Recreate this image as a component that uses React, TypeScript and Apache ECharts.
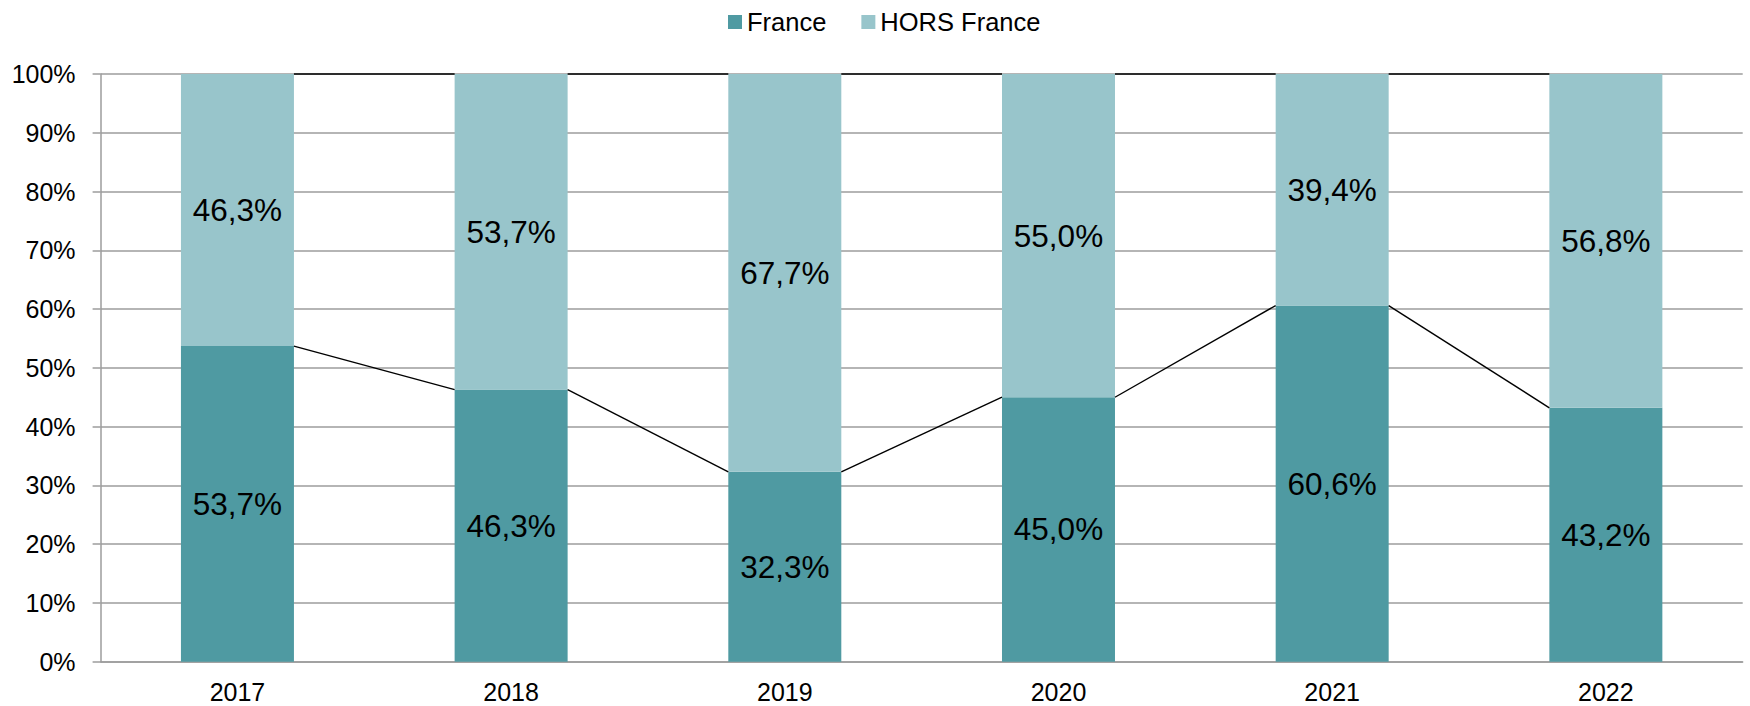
import React, { useEffect, useRef } from "react";
import * as echarts from "echarts";

const categories = ["2017", "2018", "2019", "2020", "2021", "2022"];
const franceValues = [53.7, 46.3, 32.3, 45.0, 60.6, 43.2];
const horsFranceValues = [46.3, 53.7, 67.7, 55.0, 39.4, 56.8];
const yTicks = [0, 10, 20, 30, 40, 50, 60, 70, 80, 90, 100];

const DARK = "#4F9AA2";
const LIGHT = "#98C5CB";
const GRID = "#9C9C9C";
const FONT = "Liberation Sans, Arial, sans-serif";
const BAR_W = 113;

export default function App() {
  const ref = useRef<HTMLDivElement>(null);

  useEffect(() => {
    if (!ref.current) return;
    const chart = echarts.init(ref.current, undefined, { renderer: "svg" });

    const totals = franceValues.map((v, i) => v + horsFranceValues[i]);
    const franceLinks = franceValues.slice(0, -1).map((v, i) => [i, v, franceValues[i + 1]]);
    const topLinks = totals.slice(0, -1).map((v, i) => [i, v, totals[i + 1]]);

    const renderLink = (params: any, api: any) => {
      const i = api.value(0);
      const p1 = api.coord([i, api.value(1)]);
      const p2 = api.coord([i + 1, api.value(2)]);
      return {
        type: "line",
        shape: { x1: p1[0] + BAR_W / 2, y1: p1[1], x2: p2[0] - BAR_W / 2, y2: p2[1] },
        style: { stroke: "#000", lineWidth: 1.4 },
        z2: 10,
      };
    };

    const fmt = (p: any) => p.value.toFixed(1).replace(".", ",") + "%";

    chart.setOption({
      animation: false,
      textStyle: { fontFamily: FONT },
      legend: {
        data: ["France", "HORS France"],
        left: 728,
        top: 9,
        padding: 0,
        icon: "rect",
        itemWidth: 14,
        itemHeight: 14,
        itemGap: 35,
        textStyle: { fontSize: 25.5, color: "#000", fontFamily: FONT },
      },
      grid: { left: 100.6, right: 7.3, top: 74, bottom: 44.3, containLabel: false },
      xAxis: {
        type: "category",
        data: categories,
        axisLine: { show: true, lineStyle: { color: GRID, width: 1.5 } },
        axisTick: { show: false },
        axisLabel: { fontSize: 25, color: "#000", margin: 18, fontFamily: FONT },
      },
      yAxis: {
        type: "value",
        min: yTicks[0],
        max: yTicks[yTicks.length - 1],
        interval: 10,
        axisLine: { show: true, lineStyle: { color: GRID, width: 1.5 } },
        axisTick: { show: true, length: 8, lineStyle: { color: GRID, width: 1.5 } },
        axisLabel: { fontSize: 25, color: "#000", margin: 25, formatter: "{value}%", fontFamily: FONT },
        splitLine: { show: true, lineStyle: { color: GRID, width: 1.5 } },
      },
      series: [
        {
          name: "France",
          type: "bar",
          stack: "total",
          barWidth: BAR_W,
          data: franceValues,
          itemStyle: { color: DARK },
          label: { show: true, position: "inside", fontSize: 31.5, color: "#000", formatter: fmt, fontFamily: FONT },
        },
        {
          name: "HORS France",
          type: "bar",
          stack: "total",
          barWidth: BAR_W,
          data: horsFranceValues,
          itemStyle: { color: LIGHT },
          label: { show: true, position: "inside", fontSize: 31.5, color: "#000", formatter: fmt, fontFamily: FONT },
        },
        {
          name: "links-france",
          type: "custom",
          renderItem: renderLink,
          data: franceLinks,
          encode: { x: 0, y: 1 },
          z: 5,
          silent: true,
        },
        {
          name: "links-top",
          type: "custom",
          renderItem: renderLink,
          data: topLinks,
          encode: { x: 0, y: 1 },
          z: 5,
          silent: true,
        },
      ],
    });

    return () => chart.dispose();
  }, []);

  return (
    <div
      ref={ref}
      style={{ position: "fixed", left: 0, top: 0, width: 1750, height: 706, background: "#fff" }}
    />
  );
}
